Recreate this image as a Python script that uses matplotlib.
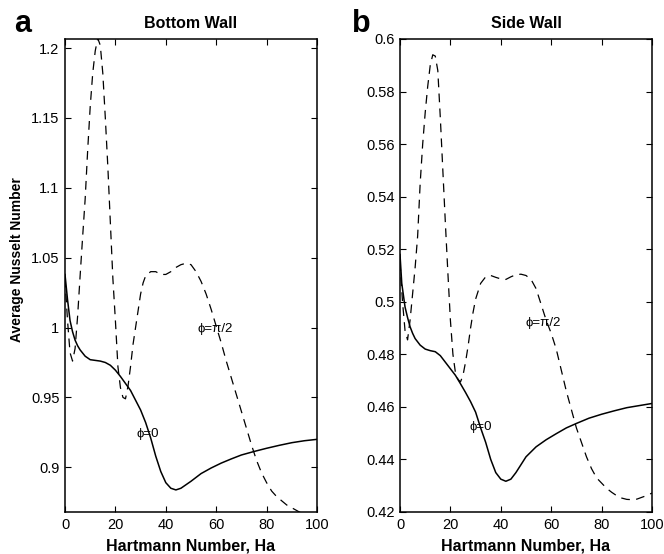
"""
Average Nusselt number vs Hartmann number, bottom wall and side wall.
"""

import matplotlib
matplotlib.use("Agg")
import matplotlib.pyplot as plt

plt.rcParams["font.family"] = ["Liberation Sans", "DejaVu Sans"]

# ==========================================
# DATA
# ==========================================
# --- a : bottom wall ---
bot_ha_0 = [0, 1, 2, 3, 4, 5, 6, 8, 10, 12, 14, 16, 18, 20, 22, 24, 26, 28, 30,
            32, 34, 36, 38, 40, 42, 44, 46, 48, 50, 54, 58, 62, 66, 70, 75, 80,
            85, 90, 95, 100]
bot_nu_0 = [1.038, 1.020, 1.005, 0.997, 0.991, 0.987, 0.984, 0.9795, 0.977,
            0.9765, 0.976, 0.975, 0.973, 0.9695, 0.965, 0.960, 0.955, 0.948,
            0.941, 0.932, 0.921, 0.908, 0.897, 0.889, 0.885, 0.8838, 0.885,
            0.8875, 0.890, 0.8955, 0.8995, 0.903, 0.906, 0.9088, 0.9113, 0.9136,
            0.9157, 0.9176, 0.919, 0.920]

bot_ha_90 = [0, 1, 2, 3, 4, 5, 6, 7, 8, 9, 10, 11, 12, 13, 14, 15, 16, 17, 18,
             19, 20, 21, 22, 23, 24, 25, 26, 27, 28, 29, 30, 31, 32, 34, 36, 38,
             40, 42, 44, 46, 48, 50, 52, 54, 56, 58, 60, 62, 64, 66, 68, 70, 72,
             74, 76, 78, 80, 82, 84, 86, 88, 90, 92, 94, 96, 98, 100]
bot_nu_90 = [1.035, 1.005, 0.982, 0.976, 0.985, 1.008, 1.037, 1.065, 1.092,
             1.127, 1.158, 1.182, 1.198, 1.207, 1.202, 1.182, 1.150, 1.115,
             1.075, 1.035, 1.005, 0.972, 0.957, 0.950, 0.949, 0.958, 0.972,
             0.988, 1.000, 1.012, 1.024, 1.032, 1.037, 1.040, 1.040, 1.038,
             1.038, 1.040, 1.043, 1.045, 1.046, 1.045, 1.040, 1.033, 1.024,
             1.013, 1.001, 0.989, 0.976, 0.964, 0.952, 0.940, 0.928, 0.916,
             0.905, 0.896, 0.889, 0.883, 0.879, 0.876, 0.873, 0.871, 0.869,
             0.867, 0.866, 0.865, 0.864]

# --- b : side wall ---
side_ha_0 = [0, 0.7, 2, 3, 4, 5, 6, 8, 10, 12, 14, 16, 18, 20, 22, 24, 26, 28,
             30, 32, 34, 36, 38, 40, 42, 44, 46, 48, 50, 54, 58, 62, 66, 70, 75,
             80, 85, 90, 95, 100]
side_nu_0 = [0.518, 0.507, 0.498, 0.494, 0.4905, 0.488, 0.486, 0.4835, 0.482,
             0.4814, 0.481, 0.4795, 0.477, 0.4745, 0.472, 0.4688, 0.4655, 0.462,
             0.458, 0.452, 0.4465, 0.440, 0.435, 0.4325, 0.4317, 0.4325, 0.435,
             0.438, 0.441, 0.4448, 0.4475, 0.4498, 0.452, 0.4537, 0.4557,
             0.4572, 0.4585, 0.4597, 0.4605, 0.4613]

side_ha_90 = [0, 1, 2, 3, 4, 5, 6, 7, 8, 9, 10, 11, 12, 13, 14, 15, 16, 17, 18,
              19, 20, 21, 22, 23, 24, 25, 26, 27, 28, 29, 30, 32, 34, 36, 38, 40,
              42, 44, 46, 48, 50, 52, 54, 56, 58, 60, 62, 64, 66, 68, 70, 72, 74,
              76, 78, 80, 82, 84, 86, 88, 90, 92, 94, 96, 98, 100]
side_nu_90 = [0.515, 0.500, 0.489, 0.4855, 0.493, 0.503, 0.513, 0.525, 0.545,
              0.560, 0.572, 0.582, 0.590, 0.594, 0.5935, 0.588, 0.570, 0.550,
              0.530, 0.511, 0.493, 0.480, 0.473, 0.4705, 0.4695, 0.472, 0.477,
              0.483, 0.490, 0.496, 0.501, 0.507, 0.5095, 0.510, 0.5093, 0.5087,
              0.5085, 0.5095, 0.5103, 0.5105, 0.5100, 0.5085, 0.505, 0.499,
              0.493, 0.488, 0.482, 0.474, 0.466, 0.459, 0.452, 0.4465, 0.441,
              0.4365, 0.433, 0.431, 0.429, 0.4275, 0.4262, 0.4253, 0.4248,
              0.4247, 0.4249, 0.4256, 0.4263, 0.4272]

x_ticks = [0, 20, 40, 60, 80, 100]
bot_yticks = [0.9, 0.95, 1.0, 1.05, 1.1, 1.15, 1.2]
bot_ylabels = ["0.9", "0.95", "1", "1.05", "1.1", "1.15", "1.2"]
side_yticks = [0.42, 0.44, 0.46, 0.48, 0.5, 0.52, 0.54, 0.56, 0.58, 0.6]
side_ylabels = ["0.42", "0.44", "0.46", "0.48", "0.5", "0.52", "0.54",
                "0.56", "0.58", "0.6"]

# ==========================================
# FIGURE
# ==========================================
W, H = 664, 554
fig = plt.figure(figsize=(W / 100, H / 100), dpi=100)
fig.patch.set_facecolor("white")


def px_axes(left, top, right, bottom):
    return fig.add_axes([left / W, 1 - bottom / H, (right - left) / W, (bottom - top) / H])


def style_axes(ax, yticks, ylabels, ylim):
    ax.set_xlim(0, 100)
    ax.set_ylim(*ylim)
    ax.set_xticks(x_ticks)
    ax.set_xticklabels([str(t) for t in x_ticks])
    ax.set_yticks(yticks)
    ax.set_yticklabels(ylabels)
    ax.tick_params(direction="in", length=4, width=0.8, top=True, right=True,
                   labelsize=10.5, pad=4, colors="black")
    for sp in ax.spines.values():
        sp.set_linewidth(1.1)
    ax.set_xlabel("Hartmann Number, Ha", fontsize=11.5, fontweight="bold", labelpad=5)


dash = (0, (7, 5))

ax1 = px_axes(65, 39, 317, 512)
ax1.plot(bot_ha_0, bot_nu_0, color="black", lw=1.1)
ax1.plot(bot_ha_90, bot_nu_90, color="black", lw=0.9, linestyle=dash)
style_axes(ax1, bot_yticks, bot_ylabels, (0.868, 1.2065))
ax1.set_ylabel("Average Nusselt Number", fontsize=10, fontweight="bold")
ax1.yaxis.set_label_coords(-0.163, 0.534)
ax1.set_title("Bottom Wall", fontsize=11.5, fontweight="bold", pad=8)
ax1.text(52.5, 0.999, "\u03d5=\u03c0/2", fontsize=9.5, va="center", ha="left")
ax1.text(28.5, 0.924, "\u03d5=0", fontsize=9.5, va="center", ha="left")

ax2 = px_axes(400, 39, 652, 512)
ax2.plot(side_ha_0, side_nu_0, color="black", lw=1.1)
ax2.plot(side_ha_90, side_nu_90, color="black", lw=0.9, linestyle=dash)
style_axes(ax2, side_yticks, side_ylabels, (0.42, 0.6))
ax2.set_title("Side Wall", fontsize=11.5, fontweight="bold", pad=8)
ax2.text(49.8, 0.4921, "\u03d5=\u03c0/2", fontsize=9.5, va="center", ha="left")
ax2.text(27.5, 0.4524, "\u03d5=0", fontsize=9.5, va="center", ha="left")

# panel letters
fig.text(14 / W, 1 - 32 / H, "a", fontsize=22, fontweight="bold", va="baseline")
fig.text(352 / W, 1 - 32 / H, "b", fontsize=22, fontweight="bold", va="baseline")

fig.savefig("out.png", dpi=100, facecolor=fig.get_facecolor())
